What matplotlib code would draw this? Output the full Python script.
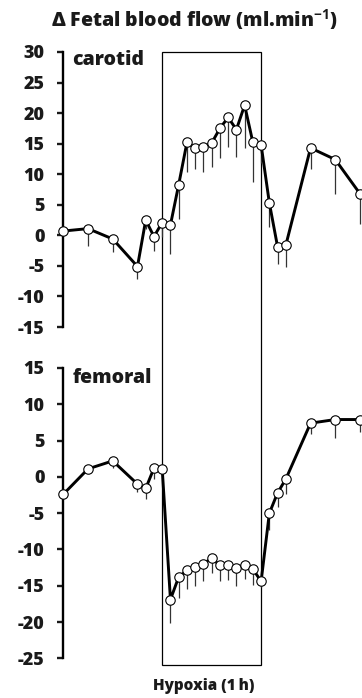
import numpy as np
import matplotlib
matplotlib.use("Agg")
import matplotlib.pyplot as plt
from matplotlib.patches import Rectangle
from matplotlib.transforms import blended_transform_factory

plt.rcParams['font.family'] = ['Open Sans', 'DejaVu Sans']
plt.rcParams['mathtext.fontset'] = 'custom'
plt.rcParams['mathtext.bf'] = 'Open Sans:bold'
plt.rcParams['mathtext.rm'] = 'Open Sans:bold'

# time (min), hypoxia from 0 to 60
t = [-60, -45, -30, -15, -10, -5, 0, 5, 10, 15, 20, 25, 30, 35, 40, 45, 50, 55, 60,
     65, 70, 75, 90, 105, 120]

carotid = [0.7, 1.1, -0.6, -5.1, 2.5, -0.2, 2.1, 1.7, 8.3, 15.2, 14.3, 14.5, 15.1,
           17.5, 19.3, 17.3, 21.3, 15.2, 14.8, 5.3, -1.9, -1.6, 14.3, 12.4, 6.8]
carotid_err = [0, 2.9, 2.1, 2.0, 1.5, 2.3, 2.3, 4.7, 5.6, 4.9, 3.4, 4.1, 3.9,
               4.8, 4.9, 4.5, 7.0, 6.4, 3.0, 3.9, 2.8, 3.6, 3.4, 5.6, 4.9]

femoral = [-2.4, 1.1, 2.2, -1.0, -1.6, 1.2, 1.1, -16.9, -13.8, -12.9, -12.4, -12.0,
           -11.2, -12.2, -12.1, -12.6, -12.1, -12.7, -14.4, -5.0, -2.2, -0.3, 7.4, 7.9, 7.9]
femoral_err = [0, 0, 1.0, 1.1, 1.4, 1.5, 0, 3.3, 2.9, 2.5, 2.7, 2.3, 2.1, 2.1, 2.1,
               2.4, 2.0, 2.2, 0.8, 2.3, 1.9, 2.1, 1.5, 2.5, 1.7]

car_ticks = [30, 25, 20, 15, 10, 5, 0, -5, -10, -15]
fem_ticks = [15, 10, 5, 0, -5, -10, -15, -20, -25]

W, H = 362, 698
fig = plt.figure(figsize=(W / 100, H / 100), dpi=100)

left = 63.3 / W
ax1 = fig.add_axes([left, 1 - 327 / H, 1 - left, 275 / H])
ax2 = fig.add_axes([left, 1 - 658.3 / H, 1 - left, 290.3 / H])


def panel(ax, y, err, ticks, name, label_y):
    ax.set_facecolor('none')
    zeros = np.zeros(len(err))
    ax.errorbar(t, y, yerr=[err, zeros], fmt='none', ecolor='#333333',
                elinewidth=0.9, capsize=0, zorder=2, clip_on=False)
    ax.plot(t, y, color='black', lw=2.1, marker='o', ms=6.8, mfc='white',
            mec='black', mew=0.8, zorder=3, clip_on=False)
    ax.set_xlim(-60, 121.2)
    ax.set_ylim(min(ticks), max(ticks))
    ax.set_yticks(ticks)
    ax.set_yticklabels([str(v) for v in ticks], fontweight='heavy', fontsize=13)
    for s in ['top', 'right', 'bottom']:
        ax.spines[s].set_visible(False)
    ax.spines['left'].set_linewidth(1.7)
    ax.tick_params(axis='y', length=4.5, width=1.7, pad=9, colors='#1a1a1a')
    ax.set_xticks([])
    ax.text(0.03, label_y, name, transform=ax.transAxes, fontsize=14,
            fontweight='heavy', va='center', ha='left', color='#1a1a1a')


panel(ax1, carotid, carotid_err, car_ticks, 'carotid', 0.971)
panel(ax2, femoral, femoral_err, fem_ticks, 'femoral', 0.966)

# hypoxia box
tr = blended_transform_factory(ax1.transData, fig.transFigure)
box = Rectangle((0, 1 - 665 / H), 60, (665 - 52) / H, transform=tr,
                fill=False, ec='black', lw=0.9, zorder=-1)
fig.add_artist(box)

fig.text(194 / W, 1 - 20 / H, '\u0394 Fetal blood flow (ml.min$^{-1}$)',
         ha='center', va='center', fontsize=14, fontweight='heavy', color='#1a1a1a')
fig.text(204 / W, 1 - 686 / H, 'Hypoxia (1\u2009h)', ha='center', va='center',
         fontsize=11, fontweight='heavy', color='#1a1a1a')

fig.savefig('out.png', dpi=100)
